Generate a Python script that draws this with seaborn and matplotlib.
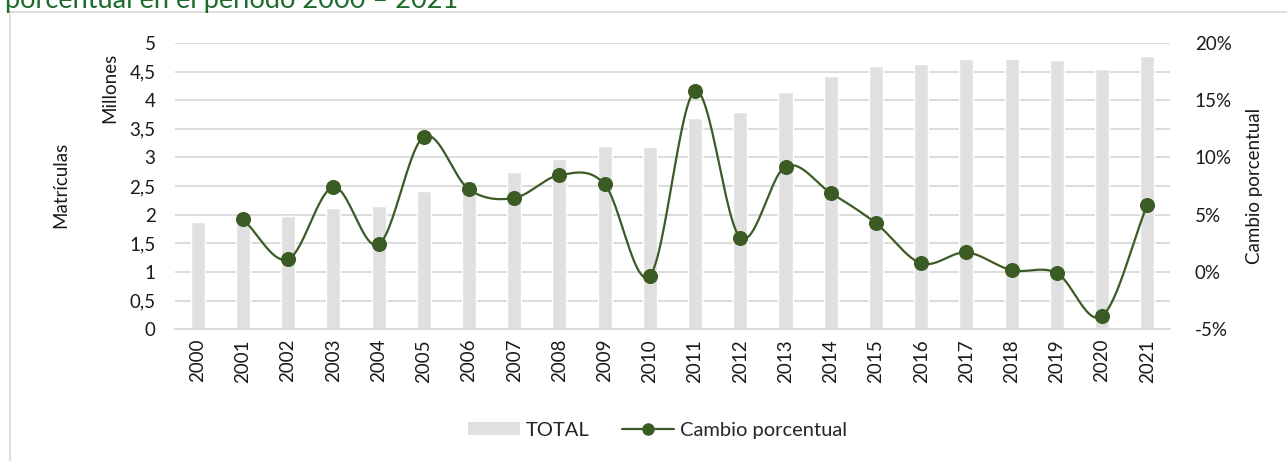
import numpy as np
import pandas as pd
import matplotlib
matplotlib.use("Agg")
import matplotlib.pyplot as plt
import seaborn as sns
from matplotlib.lines import Line2D
from matplotlib.patches import Patch

years = [str(y) for y in range(2000, 2022)]
total_millones = [1.87, 1.92, 1.97, 2.11, 2.15, 2.41, 2.58, 2.74, 2.97, 3.20, 3.18,
                  3.69, 3.79, 4.14, 4.42, 4.60, 4.63, 4.72, 4.72, 4.70, 4.55, 4.77]
cambio_pct = [np.nan, 4.6, 1.1, 7.4, 2.4, 11.8, 7.2, 6.45, 8.45, 7.65, -0.35,
              15.8, 3.0, 9.2, 6.9, 4.25, 0.75, 1.7, 0.15, -0.1, -3.85, 5.85]

BAR = "#e0e0e0"
GREEN = "#3b5b24"
TXT = "#1a1a1a"
FS = 13.5

sns.set_theme(style="white")
plt.rcParams["font.family"] = ["Lato", "DejaVu Sans"]

df = pd.DataFrame({"year": years, "total": total_millones, "pct": cambio_pct})

fig = plt.figure(figsize=(12.87, 4.61), dpi=100)
ax = fig.add_axes([0.136, 0.286, 0.773, 0.621])

sns.barplot(data=df, x="year", y="total", color=BAR, width=0.31, ax=ax,
            saturation=1, zorder=2)
ax.set_ylim(0, 5)
ax.set_yticks(np.arange(0, 5.01, 0.5))
ax.set_yticklabels([f"{v:g}".replace(".", ",") for v in np.arange(0, 5.01, 0.5)])
ax.yaxis.grid(True, color="#d9d9d9", linewidth=1.3, zorder=0)
ax.set_axisbelow(True)
ax.set_xlim(-0.5, len(years) - 0.5)
for s in ["top", "left", "right"]:
    ax.spines[s].set_visible(False)
ax.spines["bottom"].set_color("#d9d9d9")
ax.spines["bottom"].set_linewidth(1.3)
ax.set_xticks(np.arange(len(years)))
ax.set_xticklabels(years, rotation=90, fontsize=FS, color=TXT)
ax.set_xticks(np.arange(-0.5, len(years)), minor=True)
ax.tick_params(axis="x", which="major", length=0, pad=7)
ax.tick_params(axis="x", which="minor", length=6, color="#d9d9d9", width=1.3)
ax.tick_params(axis="y", length=0, labelsize=FS, labelcolor=TXT, pad=14)
ax.set_xlabel("")
ax.set_ylabel("")

# smoothed line through the points (Catmull-Rom, like a spreadsheet smoothed line)
ax2 = ax.twinx()
xs = np.arange(1, len(years))
ys = np.array(cambio_pct[1:])
px = np.concatenate([[2 * xs[0] - xs[1]], xs, [2 * xs[-1] - xs[-2]]])
py = np.concatenate([[2 * ys[0] - ys[1]], ys, [2 * ys[-1] - ys[-2]]])
cx, cy = [], []
t = np.linspace(0, 1, 30)
for i in range(1, len(px) - 2):
    for arr, out in ((px, cx), (py, cy)):
        p0, p1, p2, p3 = arr[i - 1], arr[i], arr[i + 1], arr[i + 2]
        out.extend(0.5 * ((2 * p1) + (-p0 + p2) * t
                          + (2 * p0 - 5 * p1 + 4 * p2 - p3) * t ** 2
                          + (-p0 + 3 * p1 - 3 * p2 + p3) * t ** 3))
ax2.plot(cx, cy, color=GREEN, linewidth=1.6, zorder=3)
sns.scatterplot(x=xs, y=ys, color=GREEN, s=100, edgecolor=GREEN, ax=ax2, zorder=4)
ax2.set_ylim(-5, 20)
ax2.set_yticks(np.arange(-5, 21, 5))
ax2.set_yticklabels([f"{v}%" for v in range(-5, 21, 5)])
ax2.tick_params(axis="y", length=0, labelsize=FS, labelcolor=TXT, pad=18)
for s in ax2.spines.values():
    s.set_visible(False)
ax2.set_xlim(-0.5, len(years) - 0.5)
ax2.set_ylabel("Cambio porcentual", fontsize=FS, color=TXT, labelpad=10)

fig.text(0.047, 0.60, "Matrículas", rotation=90, fontsize=FS, color=TXT,
         ha="center", va="center")
fig.text(0.085, 0.81, "Millones", rotation=90, fontsize=FS, color=TXT,
         ha="center", va="center")

# cut-off title and frame from the source page
fig.text(0.004, 0.983, "porcentual en el período 2000 – 2021", fontsize=19.5,
         color="#1e6b2e", ha="left", va="baseline")
fig.add_artist(Line2D([0.008, 1.0], [0.973, 0.973], color="#d9d9d9", linewidth=1.2))
fig.add_artist(Line2D([0.008, 0.008], [0.0, 0.973], color="#d9d9d9", linewidth=1.2))

handles = [Patch(facecolor=BAR, edgecolor="none"),
           Line2D([0], [0], color=GREEN, linewidth=1.6, marker="o", markersize=8)]
fig.legend(handles, ["TOTAL", "Cambio porcentual"], loc="center",
           bbox_to_anchor=(0.511, 0.067), ncol=2, frameon=False, fontsize=14.5,
           handlelength=2.6, handleheight=0.55, columnspacing=1.6, handletextpad=0.3)

fig.savefig("out.png", dpi=100)
